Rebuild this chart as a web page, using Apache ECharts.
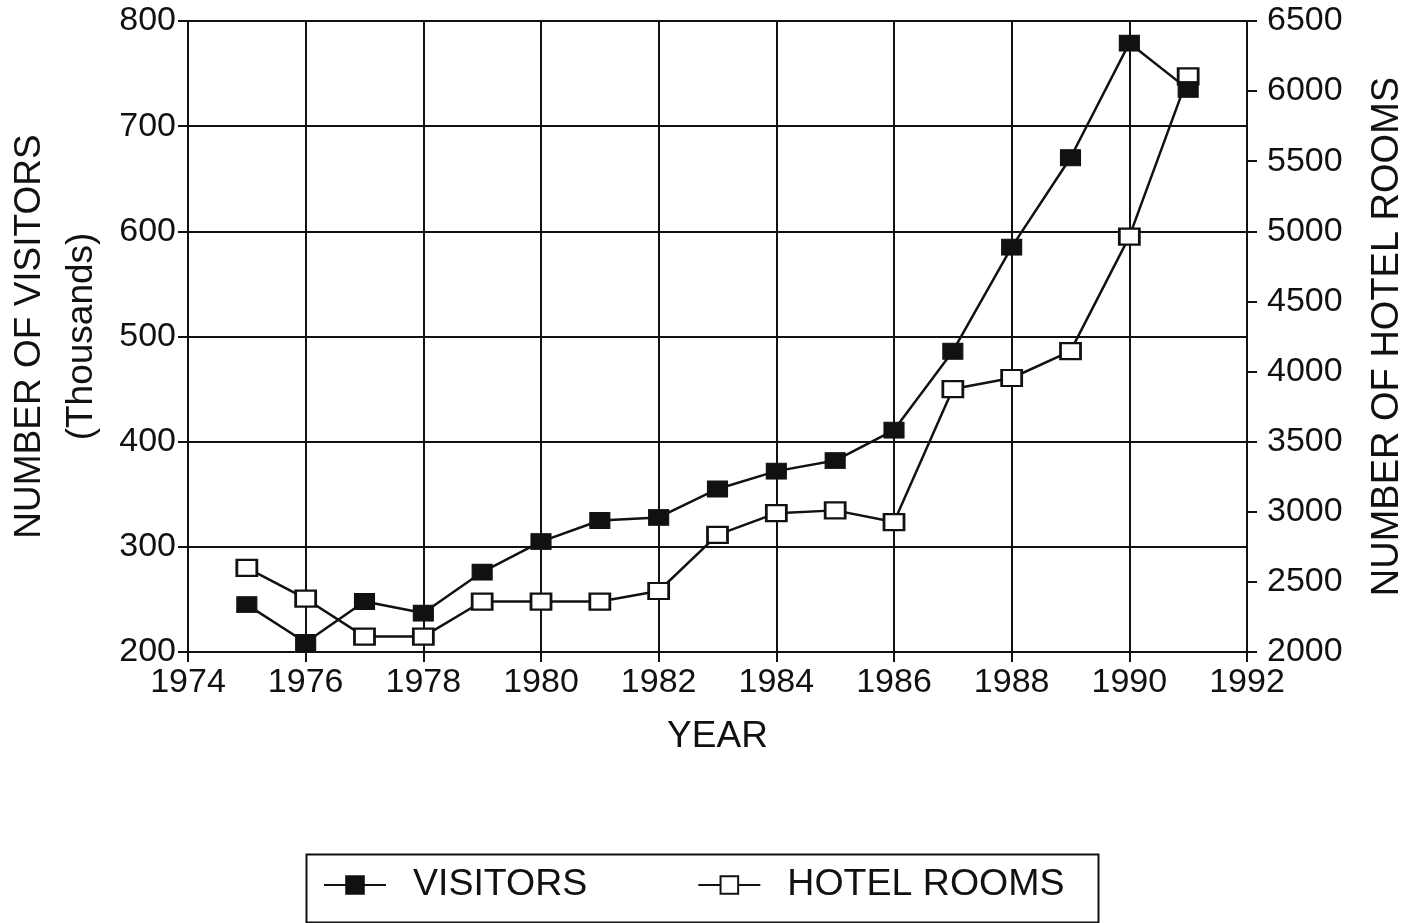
<!DOCTYPE html>
<html>
<head>
<meta charset="utf-8">
<script src="https://cdn.jsdelivr.net/npm/echarts@6/dist/echarts.min.js"></script>
<style>
  html, body { margin: 0; padding: 0; background: #fff; }
  #chart { width: 1420px; height: 923px; }
</style>
</head>
<body>
<div id="chart"></div>
<script>
// 年份
var years = [1975, 1976, 1977, 1978, 1979, 1980, 1981, 1982, 1983, 1984, 1985, 1986, 1987, 1988, 1989, 1990, 1991]
// visitors (thousands), left axis
var visitors = [245, 209, 248, 237, 276, 305, 325, 328, 355, 372, 382, 411, 486, 585, 670, 779, 735]
// hotel rooms, right axis
var hotelRooms = [2600, 2380, 2110, 2110, 2360, 2360, 2360, 2435, 2835, 2990, 3010, 2927, 3875, 3954, 4146, 4962, 6105]

var font = 'Liberation Sans, Arial, sans-serif'
var black = '#111'

function pairs(ys) {
  return years.map(function (y, i) { return [y, ys[i]] })
}
function plain(v) { return String(v) }

var chart = echarts.init(document.getElementById('chart'))
var option = {
  backgroundColor: '#fff',
  animation: false,
  grid: { left: 188, right: 173, top: 21, bottom: 271, outerBoundsMode: 'none', containLabel: false },
  graphic: [
    {
      type: 'rect',
      left: 304, top: 852,
      shape: { width: 792, height: 68 },
      style: { fill: 'none', stroke: black, lineWidth: 2 },
    },
  ],
  legend: {
    left: 318, top: 861,
    itemWidth: 62, itemHeight: 22,
    itemGap: 110,
    textStyle: { fontFamily: font, fontSize: 37.5, color: black, padding: [0, 0, 0, 22] },
    data: ['VISITORS', 'HOTEL ROOMS'],
  },
  xAxis: {
    type: 'value',
    min: 1974, max: 1992, interval: 2,
    name: 'YEAR',
    nameLocation: 'middle',
    nameGap: 66,
    nameMoveOverlap: false,
    nameTextStyle: { fontFamily: font, fontSize: 37, color: black },
    axisLine: { show: true, lineStyle: { color: black, width: 2 } },
    axisTick: { show: true, inside: false, length: 10, lineStyle: { color: black, width: 2 } },
    axisLabel: { fontFamily: font, fontSize: 34, color: black, margin: 14, formatter: plain, showMaxLabel: true, showMinLabel: true },
    splitLine: { show: true, lineStyle: { color: black, width: 2 } },
  },
  yAxis: [
    {
      type: 'value',
      min: 200, max: 800, interval: 100,
      name: 'NUMBER OF VISITORS\n(Thousands)',
      nameLocation: 'middle',
      nameRotate: 90,
      nameGap: 80,
      nameMoveOverlap: false,
      nameTextStyle: { fontFamily: font, fontSize: 37, color: black, lineHeight: 52 },
      axisLine: { show: true, lineStyle: { color: black, width: 2 } },
      axisTick: { show: true, inside: false, length: 10, lineStyle: { color: black, width: 2 } },
      axisLabel: { fontFamily: font, fontSize: 34, color: black, margin: 12, formatter: plain },
      splitLine: { show: true, lineStyle: { color: black, width: 2 } },
    },
    {
      type: 'value',
      min: 2000, max: 6500, interval: 500,
      name: 'NUMBER OF HOTEL ROOMS',
      nameLocation: 'middle',
      nameRotate: 90,
      nameGap: 122,
      nameTextStyle: { fontFamily: font, fontSize: 38, color: black },
      axisLine: { show: true, lineStyle: { color: black, width: 2 } },
      axisTick: { show: true, inside: false, length: 10, lineStyle: { color: black, width: 2 } },
      axisLabel: { fontFamily: font, fontSize: 34, color: black, margin: 20, formatter: plain },
      splitLine: { show: false },
    },
  ],
  series: [
    {
      name: 'VISITORS',
      type: 'line',
      yAxisIndex: 0,
      data: pairs(visitors),
      symbol: 'rect',
      symbolSize: [20, 16],
      lineStyle: { color: black, width: 2.5 },
      itemStyle: { color: black, borderColor: black, borderWidth: 1 },
      z: 3,
    },
    {
      name: 'HOTEL ROOMS',
      type: 'line',
      yAxisIndex: 1,
      data: pairs(hotelRooms),
      symbol: 'rect',
      symbolSize: [20, 16],
      lineStyle: { color: black, width: 2.5 },
      itemStyle: { color: '#fff', borderColor: black, borderWidth: 2.5 },
      z: 2,
    },
  ],
}
chart.setOption(option)
</script>
</body>
</html>
